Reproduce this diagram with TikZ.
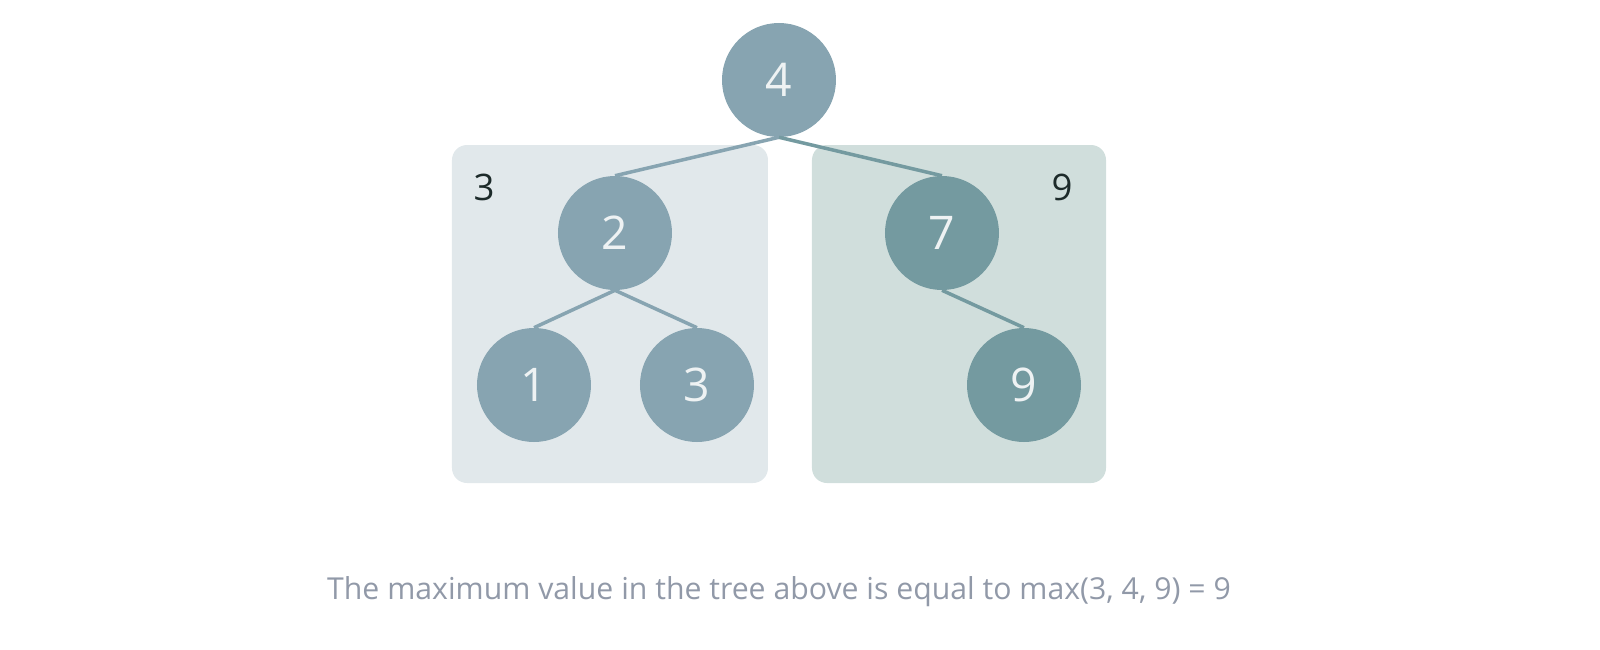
\documentclass[tikz,border=0pt]{standalone}
\usepackage{fontspec}
\setmainfont{Open Sans}
\usetikzlibrary{positioning}
\definecolor{leftnode}{HTML}{87A4B1}
\definecolor{rightnode}{HTML}{749AA0}
\definecolor{leftbox}{HTML}{E1E8EB}
\definecolor{rightbox}{HTML}{D0DEDC}
\definecolor{numtext}{HTML}{EEF2F3}
\definecolor{maxtext}{HTML}{1C2A2A}
\definecolor{captext}{HTML}{9199A8}
\tikzset{
    on grid,
    vert/.style ={circle, fill=leftnode, minimum size = 2.85cm, inner sep=0pt,
        text=numtext, font=\fontsize{33}{33}\selectfont},
    vertr/.style ={vert, fill=rightnode},
    link/.style ={draw=leftnode, line width=2.5pt},
    linkr/.style ={link, draw=rightnode},
    subtree/.style ={rounded corners=0.375cm},
    maxlabel/.style = {text=maxtext, font=\fontsize{26}{26}\selectfont}
}
\begin{document}
\begin{tikzpicture}
    \useasboundingbox (-19.475,2.0) rectangle (20.525,-14.25);
    \fill[subtree, leftbox] (-8.175,-1.625) rectangle (-0.275,-10.075);
    \fill[subtree, rightbox] (0.825,-1.625) rectangle (8.175,-10.075);
    \node[maxlabel] (m3) at (-7.375,-2.675) {3};
    \node[maxlabel] (m9) at (7.075,-2.675) {9};

    \node[vert] (4) {4};
    \node[vert] (2) [below left =3.825cm and 4.1cm of 4] {2};
    \node[vertr] (7) [below right =3.825cm and 4.075cm of 4] {7};
    \node[vert] (1) [below left =3.8cm and 2.025cm of 2] {1};
    \node[vert] (3) [below right =3.8cm and 2.05cm of 2] {3};
    \node[vertr] (9) [below right =3.8cm and 2.05cm of 7] {9};

    \path[link] (4.south) edge (2.north);
    \path[linkr] (4.south) edge (7.north);
    \path[link] (2.south) edge (1.north);
    \path[link] (2.south) edge (3.north);
    \path[linkr] (7.south) edge (9.north);

    \node[text=captext, font=\fontsize{21.5}{21.5}\selectfont] (cap) at (0,-12.8)
        {The maximum value in the tree above is equal to max(3, 4, 9) = 9};
\end{tikzpicture}
\end{document}
